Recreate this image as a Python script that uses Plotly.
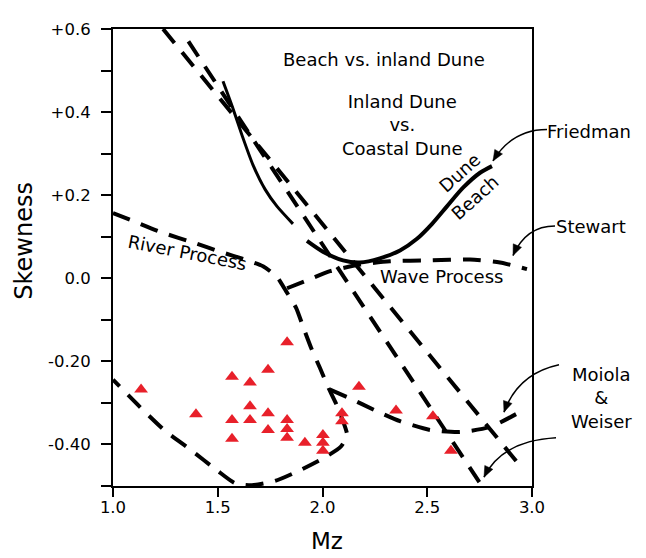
import plotly.graph_objects as go

# ---------------- data (Mz, Skewness) ----------------
tri_mz = [1.134, 1.396, 1.568, 1.568, 1.568, 1.654, 1.654, 1.654, 1.740, 1.740, 1.740,
          1.831, 1.831, 1.831, 1.831, 1.916, 2.002, 2.002, 2.002, 2.093, 2.093, 2.174,
          2.351, 2.527, 2.613]
tri_skew = [-0.268, -0.327, -0.237, -0.341, -0.386, -0.251, -0.308, -0.341, -0.220, -0.325, -0.365,
            -0.154, -0.341, -0.363, -0.384, -0.396, -0.377, -0.396, -0.415, -0.325, -0.344, -0.261,
            -0.318, -0.332, -0.415]

# straight dashed boundary lines
line_p_mz = [1.239, 2.952]
line_p_sk = [0.600, -0.457]
line_q_mz = [1.360, 2.761]
line_q_sk = [0.570, -0.500]

# river process boundary, looping into the lower U
river_mz = [1.000, 1.095, 1.224, 1.401, 1.511, 1.630, 1.716, 1.783, 1.826, 1.874, 1.912, 1.950,
            1.988, 2.026, 2.064, 2.098, 2.117, 2.088, 2.012, 1.893, 1.773, 1.663, 1.582, 1.496,
            1.368, 1.248, 1.129, 1.000]
river_sk = [0.157, 0.138, 0.112, 0.083, 0.064, 0.045, 0.029, 0.003, -0.031, -0.071, -0.123, -0.173,
            -0.216, -0.261, -0.301, -0.344, -0.377, -0.405, -0.431, -0.462, -0.488, -0.498, -0.493, -0.462,
            -0.412, -0.367, -0.310, -0.244]

# wave process (Stewart)
wave_mz = [1.831, 1.926, 2.036, 2.179, 2.322, 2.513, 2.704, 2.847, 2.976]
wave_sk = [-0.024, -0.005, 0.017, 0.033, 0.041, 0.043, 0.045, 0.038, 0.022]

# Moiola & Weiser
moiola_mz = [2.036, 2.131, 2.251, 2.370, 2.513, 2.656, 2.800, 2.967]
moiola_sk = [-0.268, -0.289, -0.318, -0.344, -0.365, -0.370, -0.358, -0.315]

# Friedman solid lines
fried_a_mz = [1.525, 1.573, 1.616, 1.668, 1.726, 1.783, 1.859]
fried_a_sk = [0.474, 0.408, 0.344, 0.273, 0.214, 0.173, 0.131]
fried_b_mz = [1.926, 2.002, 2.098, 2.179, 2.274, 2.370, 2.451, 2.523, 2.594, 2.671, 2.752, 2.809]
fried_b_sk = [0.090, 0.064, 0.043, 0.038, 0.048, 0.067, 0.095, 0.131, 0.173, 0.218, 0.254, 0.270]

y_ticks = [0.6, 0.5, 0.4, 0.3, 0.2, 0.1, 0.0, -0.1, -0.2, -0.3, -0.4, -0.5]
y_labels = ["+0.6", "", "+0.4", "", "+0.2", "", "0.0", "", "-0.20", "", "-0.40", ""]
x_ticks = [1.0, 1.5, 2.0, 2.5, 3.0]
x_labels = ["1.0", "1.5", "2.0", "2.5", "3.0"]

# ---------------- layout helpers ----------------
FONT = "DejaVu Sans"
OFF = 8                      # page body margin of the html page
W, H = 646 - OFF, 558 - OFF
L, R, T, B = 113, 532, 22, 486   # plot box in window pixels


def pp(px, py):
    return (px - L) / (R - L), (B - py) / (B - T)


def curve_path(p0, c, p1):
    x0, y0 = pp(*p0)
    cx, cy = pp(*c)
    x1, y1 = pp(*p1)
    return f"M {x0},{y0} Q {cx},{cy} {x1},{y1}"


def head_path(c, tip, length=11, half=4.5):
    dx, dy = tip[0] - c[0], tip[1] - c[1]
    n = (dx * dx + dy * dy) ** 0.5
    ux, uy = dx / n, dy / n
    bx, by = tip[0] - ux * length, tip[1] - uy * length
    a = pp(bx - uy * half, by + ux * half)
    b = pp(bx + uy * half, by - ux * half)
    t = pp(*tip)
    return f"M {t[0]},{t[1]} L {a[0]},{a[1]} L {b[0]},{b[1]} Z"


fig = go.Figure()

DASH = "18px,12px"
for xs, ys in [(line_p_mz, line_p_sk), (line_q_mz, line_q_sk)]:
    fig.add_trace(go.Scatter(x=xs, y=ys, mode="lines",
                             line=dict(color="black", width=4, dash=DASH), hoverinfo="skip"))
for xs, ys in [(river_mz, river_sk), (wave_mz, wave_sk), (moiola_mz, moiola_sk)]:
    fig.add_trace(go.Scatter(x=xs, y=ys, mode="lines",
                             line=dict(color="black", width=4, dash=DASH, shape="spline", smoothing=0.6),
                             hoverinfo="skip"))
fig.add_trace(go.Scatter(x=fried_a_mz, y=fried_a_sk, mode="lines",
                         line=dict(color="black", width=3, shape="spline", smoothing=0.6)))
fig.add_trace(go.Scatter(x=fried_b_mz, y=fried_b_sk, mode="lines",
                         line=dict(color="black", width=4, shape="spline", smoothing=0.8)))
fig.add_trace(go.Scatter(x=tri_mz, y=tri_skew, mode="markers",
                         marker=dict(symbol="triangle-up", size=12, color="#E8202A", line=dict(width=0))))

# arrows
arrows = [
    ((547, 124), (512, 124), (493, 156)),
    ((555, 222), (526, 222), (513, 252)),
    ((559, 363), (518, 372), (504, 411)),
    ((556, 437), (502, 440), (484, 477)),
]
shapes = []
for p0, c, p1 in arrows:
    shapes.append(dict(type="path", xref="paper", yref="paper", path=curve_path(p0, c, p1),
                       line=dict(color="black", width=1.5)))
    shapes.append(dict(type="path", xref="paper", yref="paper", path=head_path(c, p1),
                       fillcolor="black", line=dict(color="black", width=0.5)))


def ann(text, px, py, size=18, angle=0, xanchor="center"):
    x, y = pp(px, py)
    return dict(text=text, x=x, y=y, xref="paper", yref="paper", showarrow=False,
                xanchor=xanchor, yanchor="middle", textangle=angle, align="center",
                font=dict(family=FONT, size=size, color="black"))


annotations = [
    ann("Beach vs. inland Dune", 384, 53),
    ann("Inland Dune<br>vs.<br>Coastal Dune", 402, 119),
    ann("Dune", 460, 168, angle=-42),
    ann("Beach", 475, 193, angle=-42),
    ann("River Process", 187, 249, angle=11),
    ann("Wave Process", 441, 273),
    ann("Friedman", 545, 126, xanchor="left"),
    ann("Stewart", 554, 223, xanchor="left"),
    ann("Moiola<br>&<br>Weiser", 601, 397),
    ann("Skewness", 24, 237, size=24, angle=-90),
    ann("Mz", 327, 542, size=23),
]

fig.update_layout(
    width=W, height=H,
    margin=dict(l=L - OFF, r=W - (R - OFF), t=T - OFF, b=H - (B - OFF), pad=0),
    paper_bgcolor="white", plot_bgcolor="white",
    showlegend=False,
    shapes=shapes,
    annotations=annotations,
    font=dict(family=FONT, color="black"),
)
fig.update_xaxes(range=[1.0, 3.0], tickvals=x_ticks, ticktext=x_labels,
                 ticks="outside", ticklen=9, tickwidth=2, tickcolor="black",
                 showline=True, linecolor="black", linewidth=2, mirror=True,
                 showgrid=False, zeroline=False, ticklabelstandoff=-4,
                 tickfont=dict(family=FONT, size=16.5, color="black"))
fig.update_yaxes(range=[-0.5, 0.6], tickvals=y_ticks, ticktext=y_labels,
                 ticks="outside", ticklen=10, tickwidth=2, tickcolor="black",
                 showline=True, linecolor="black", linewidth=2, mirror=True,
                 showgrid=False, zeroline=False, ticklabelstandoff=7,
                 tickfont=dict(family=FONT, size=16.5, color="black"))

fig.write_html("out.html")
